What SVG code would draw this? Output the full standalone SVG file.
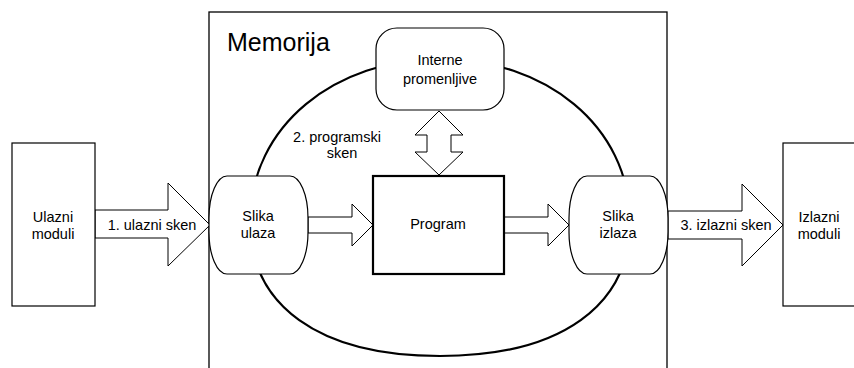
<svg xmlns="http://www.w3.org/2000/svg" width="854" height="368" viewBox="0 0 854 368">
<style>
  .box { fill: #fff; stroke: #000; stroke-width: 1.2; }
  .thick { fill: #fff; stroke: #000; stroke-width: 2.2; }
  .arrow { fill: #fff; stroke: #000; stroke-width: 1; stroke-linejoin: miter; }
  text { font-family: "Liberation Sans", Arial, sans-serif; font-size: 14.5px; fill: #000; text-anchor: middle; }
  .title { font-size: 25px; text-anchor: start; }
</style>
<rect width="854" height="368" fill="#fff"/>
<g id="memorija">
  <rect x="209" y="12" width="458" height="370" fill="#fff" stroke="#000" stroke-width="1.3"/>
  <text class="title" x="227" y="51">Memorija</text>
</g>
<g id="ciklus">
  <path d="M440,59 C336,59 250,125 250,222 C250,305 318,356 440,356 C562,356 630,305 630,222 C630,125 544,59 440,59 Z" fill="none" stroke="#000" stroke-width="2.2"/>
  <text x="337" y="142">2. programski</text>
  <text x="342" y="158">sken</text>
</g>
<g id="connectors">
  <polygon class="arrow" points="95,210 168,210 168,183 210,225 168,266 168,238 95,238"/>
  <polygon class="arrow" points="308,217 352,217 352,204 373,225 352,246 352,233 308,233"/>
  <polygon class="arrow" points="504,217 548,217 548,204 569,225 548,246 548,233 504,233"/>
  <polygon class="arrow" points="668,211 742,211 742,184 783,225 742,266 742,239 668,239"/>
  <polygon class="arrow" points="439,111 463,135 451,135 451,152 463,152 439,175 415,152 427,152 427,135 415,135"/>
  <text x="152" y="230">1. ulazni sken</text>
  <text x="726" y="230">3. izlazni sken</text>
</g>
<g id="ulazni-moduli">
  <rect class="box" x="12" y="143" width="83" height="163"/>
  <text x="53" y="222">Ulazni</text>
  <text x="53" y="239">moduli</text>
</g>
<g id="interne-promenljive">
  <rect class="box" x="376" y="28" width="128" height="82" rx="21" ry="21"/>
  <text x="440" y="65">Interne</text>
  <text x="440" y="84">promenljive</text>
</g>
<g id="slika-ulaza">
  <rect class="box" x="209" y="176" width="99" height="98" rx="18" ry="42"/>
  <text x="258" y="221">Slika</text>
  <text x="258" y="238">ulaza</text>
</g>
<g id="program">
  <rect class="thick" x="373" y="176" width="131" height="98"/>
  <text x="438" y="229">Program</text>
</g>
<g id="slika-izlaza">
  <rect class="box" x="569" y="176" width="99" height="98" rx="18" ry="42"/>
  <text x="618" y="221">Slika</text>
  <text x="618" y="238">izlaza</text>
</g>
<g id="izlazni-moduli">
  <rect class="box" x="783" y="143" width="83" height="163"/>
  <text x="819" y="222">Izlazni</text>
  <text x="819" y="239">moduli</text>
</g>
</svg>
